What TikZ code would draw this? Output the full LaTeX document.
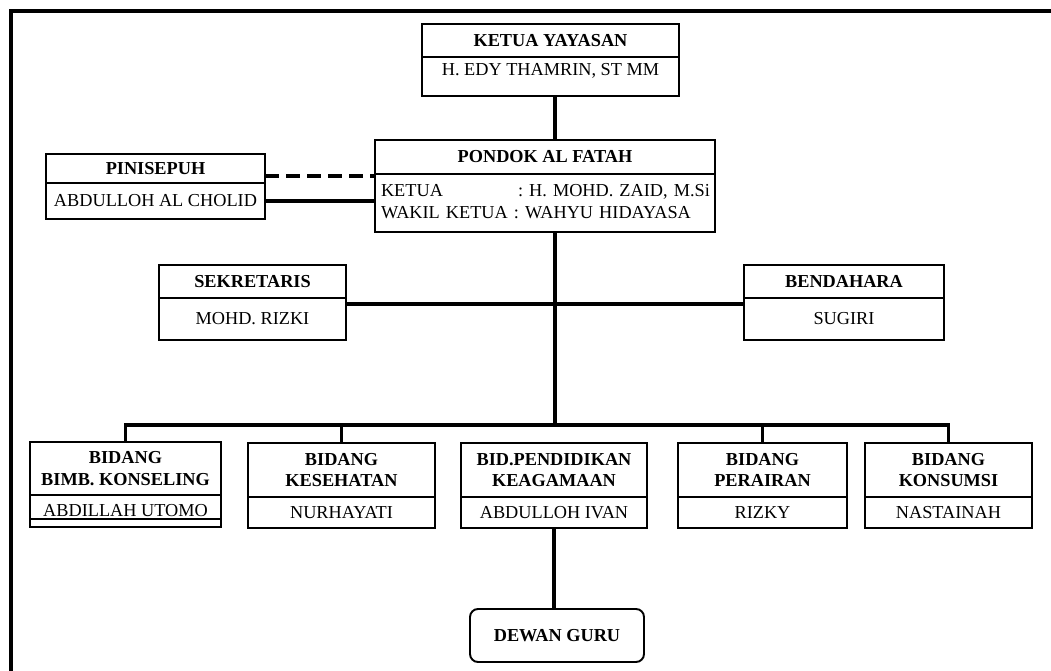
\documentclass[tikz,border=0pt]{standalone}
\usepackage{fontspec}
\setmainfont{Liberation Serif}
\usetikzlibrary{positioning}
\newcommand{\chartfont}{\fontsize{10.4}{12.4}\selectfont\frenchspacing}
\tikzset{
  box/.style={draw, line width=0.85pt, outer sep=0pt, inner sep=0pt, align=center, font=\chartfont},
  head/.style={box, font=\chartfont\bfseries},
  link/.style={line width=1.9pt},
}
\begin{document}
\begin{tikzpicture}[x=0.02cm,y=-0.02cm]
  \useasboundingbox (0,0) rectangle (1051,671);
  \draw [link] (11,690) -- (11,11) -- (1070,11);

  \node [head, minimum width=5.14cm, minimum height=0.66cm] (ky) at (550.5,40.5) {KETUA YAYASAN};
  \node [box, minimum width=5.14cm, text height=0.38cm, text depth=0.40cm, below=0pt of ky] (kyn) {H. EDY THAMRIN, ST MM};

  \node [head, minimum width=6.8cm, minimum height=0.68cm] (pf) at (545,157) {PONDOK AL FATAH};
  \node [box, minimum width=6.8cm, minimum height=1.16cm, text width=6.56cm, align=left, below=0pt of pf] (pfn)
    {\begin{tabular}{@{}l@{}}\makebox[2.74cm][l]{KETUA}: H. MOHD. ZAID, M.Si\\WAKIL KETUA : WAHYU HIDAYASA\end{tabular}};

  \node [head, minimum width=4.38cm, minimum height=0.58cm] (pn) at (155.5,168.5) {PINISEPUH};
  \node [box, minimum width=4.38cm, minimum height=0.72cm, below=0pt of pn] (pnn) {ABDULLOH AL CHOLID};

  \node [head, minimum width=3.74cm, minimum height=0.66cm] (sk) at (252.5,281.5) {SEKRETARIS};
  \node [box, minimum width=3.74cm, minimum height=0.84cm, below=0pt of sk] (skn) {MOHD. RIZKI};
  \node [head, minimum width=4cm, minimum height=0.66cm] (bd) at (844,281.5) {BENDAHARA};
  \node [box, minimum width=4cm, minimum height=0.84cm, below=0pt of bd] (bdn) {SUGIRI};

  % bidang
  \node [head, minimum width=3.82cm, minimum height=1.06cm] (b1) at (125.5,468.5) {BIDANG\\BIMB. KONSELING};
  \node [box, minimum width=3.82cm, minimum height=0.64cm, below=0pt of b1] (b1n) {ABDILLAH UTOMO};
  \node [head, minimum width=3.74cm, minimum height=1.08cm] (b2) at (341.5,470) {BIDANG\\KESEHATAN};
  \node [box, minimum width=3.74cm, minimum height=0.62cm, below=0pt of b2] (b2n) {NURHAYATI};
  \node [head, minimum width=3.72cm, minimum height=1.08cm] (b3) at (554,470) {BID.PENDIDIKAN\\KEAGAMAAN};
  \node [box, minimum width=3.72cm, minimum height=0.62cm, below=0pt of b3] (b3n) {ABDULLOH IVAN};
  \node [head, minimum width=3.38cm, minimum height=1.08cm] (b4) at (762.5,470) {BIDANG\\PERAIRAN};
  \node [box, minimum width=3.38cm, minimum height=0.62cm, below=0pt of b4] (b4n) {RIZKY};
  \node [head, minimum width=3.34cm, minimum height=1.08cm] (b5) at (948.5,470) {BIDANG\\KONSUMSI};
  \node [box, minimum width=3.34cm, minimum height=0.62cm, below=0pt of b5] (b5n) {NASTAINAH};
  \draw [line width=0.85pt] ([yshift=0.16cm]b1n.south west) -- ([yshift=0.16cm]b1n.south east);

  \node [head, line width=1.1pt, rounded corners=0.16cm, minimum width=3.48cm, minimum height=1.06cm] (dg) at (557,635.5) {DEWAN GURU};

  \coordinate (trunk) at (555,425);
  \coordinate (mid) at (555,304);
  \coordinate (dash) at ([yshift=0.14cm]pn.south east);
  \draw [link] (kyn.south -| trunk) -- (pf.north -| trunk);
  \draw [link] (pfn.south -| trunk) -- (trunk);
  \draw [link, dash pattern=on 8pt off 4pt] (dash) -- (dash -| pfn.west);
  \draw [link] (pnn.east) -- (pnn.east -| pfn.west);
  \draw [link] (mid -| skn.east) -- (mid -| bdn.west);
  \draw [link] (b1.north) |- (trunk) -| (b5.north);
  \draw [link] (b2.north) -- (b2.north |- trunk);
  \draw [link] (b4.north) -- (b4.north |- trunk);
  \draw [link] (b3n.south) -- (b3n.south |- dg.north);
\end{tikzpicture}
\end{document}
